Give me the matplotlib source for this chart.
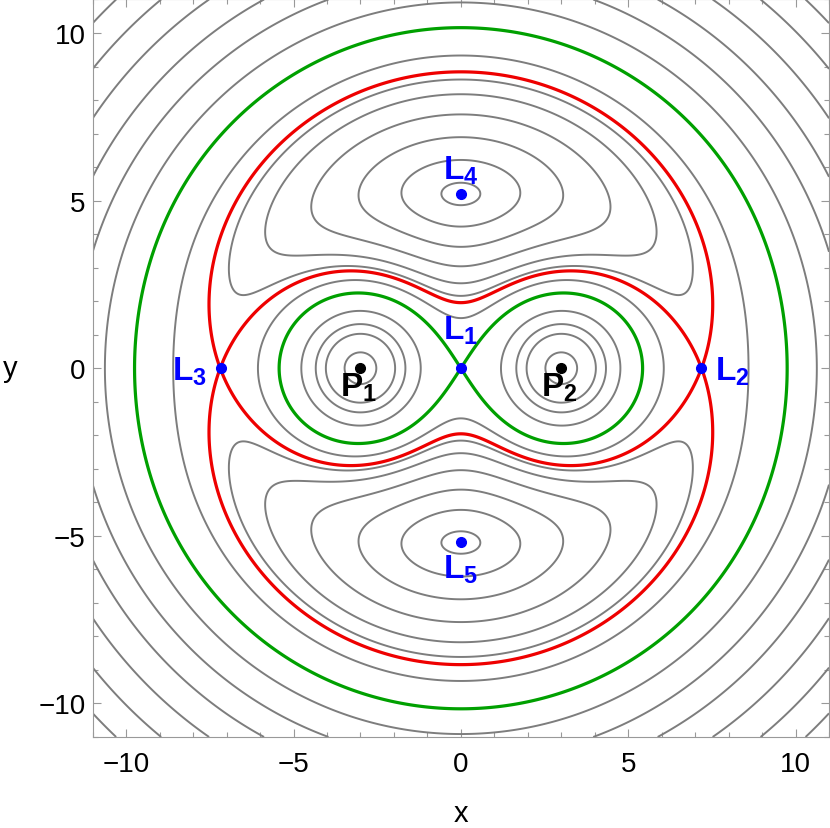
import numpy as np
import matplotlib
matplotlib.use('Agg')
import matplotlib.pyplot as plt
from matplotlib.ticker import MultipleLocator

plt.rcParams['font.family'] = ['Liberation Sans', 'DejaVu Sans']
plt.rcParams['mathtext.fontset'] = 'custom'
plt.rcParams['mathtext.rm'] = 'Liberation Sans'
plt.rcParams['mathtext.bf'] = 'Liberation Sans:bold'

# two equal masses, rotating frame
mass_x = [-3.0, 3.0]
mass_labels = ["P_1", "P_2"]

# Lagrange points
lagrange_x = [0.0, 7.18, -7.18, 0.0, 0.0]
lagrange_y = [0.0, 0.0, 0.0, 5.196, -5.196]
lagrange_labels = ["L_1", "L_2", "L_3", "L_4", "L_5"]

# grey contour levels (inside the outer green ring / outside it)
inner_levels = [-2.32, -1.185, -0.972, -0.80, -0.607, -0.5627, -0.539,
                -0.511, -0.486, -0.4686, -0.4595]
outer_levels = [-1.30, -1.185, -1.073, -0.972, -0.879, -0.80, -0.728]

omega2 = 2.0 / 6.0 ** 3


def potential(x, y):
    r1 = np.sqrt((x - mass_x[0]) ** 2 + y ** 2)
    r2 = np.sqrt((x - mass_x[1]) ** 2 + y ** 2)
    return -1.0 / r1 - 1.0 / r2 - 0.5 * omega2 * (x ** 2 + y ** 2)


def bold_label(name):
    base, sub = name.split('_')
    return r'$\mathbf{%s}_\mathbf{%s}$' % (base, sub)


xs = np.linspace(-11, 11, 1201)
X, Y = np.meshgrid(xs, xs)
Z = potential(X, Y)
R = np.hypot(X, Y)

green_level = potential(lagrange_x[0], lagrange_y[0])
red_level = potential(lagrange_x[1], lagrange_y[1])

fig = plt.figure(figsize=(8.30, 8.29), dpi=100)
ax = fig.add_axes([0.1117, 0.1098, 0.8871, 0.8896])

grey = '#7d7d7d'
ax.contour(X, Y, np.where(R < 9.5, Z, np.nan), levels=inner_levels,
           colors=grey, linewidths=1.4, linestyles='solid')
ax.contour(X, Y, np.where(R >= 9.5, Z, np.nan), levels=outer_levels,
           colors=grey, linewidths=1.4, linestyles='solid')
ax.contour(X, Y, Z, levels=[green_level], colors='#00a000', linewidths=2.3,
           linestyles='solid')
ax.contour(X, Y, Z, levels=[red_level], colors='#ee0000', linewidths=2.3,
           linestyles='solid')

ax.plot(mass_x, [0, 0], 'o', color='black', ms=7, zorder=5)
ax.plot(lagrange_x, lagrange_y, 'o', color='blue', ms=7, zorder=5)

lab = dict(fontsize=24)
placement = [(0, 1.15, 'center', 'center'), (0.42, -0.08, 'left', 'center'),
             (-0.42, -0.08, 'right', 'center'), (0, 0.25, 'center', 'bottom'),
             (0, -0.3, 'center', 'top')]
for lx, ly, name, (dx, dy, ha, va) in zip(lagrange_x, lagrange_y, lagrange_labels, placement):
    ax.text(lx + dx, ly + dy, bold_label(name), color='blue', ha=ha, va=va, **lab)
for mx, name in zip(mass_x, mass_labels):
    ax.text(mx - 0.05, -0.06, bold_label(name), color='black', ha='center', va='top', **lab)

ax.set_xlim(-11, 11)
ax.set_ylim(-11, 11)
ax.set_aspect('auto')
ax.xaxis.set_major_locator(MultipleLocator(5))
ax.yaxis.set_major_locator(MultipleLocator(5))
ax.xaxis.set_minor_locator(MultipleLocator(1))
ax.yaxis.set_minor_locator(MultipleLocator(1))
ax.tick_params(which='both', direction='in', top=True, right=True, color='#999999',
               labelsize=20)
ax.tick_params(which='major', length=6, width=0.8)
ax.tick_params(which='minor', length=3.5, width=0.8)
ax.tick_params(axis='x', pad=10)
ax.tick_params(axis='y', pad=5)
for s in ax.spines.values():
    s.set_color('#999999')
    s.set_linewidth(0.8)

ax.set_xlabel('x', fontsize=21, labelpad=16)
ax.set_ylabel('y', fontsize=21, rotation=0, labelpad=0)
ax.yaxis.set_label_coords(-0.112, 0.5)
ax.yaxis.label.set_verticalalignment('center')

fig.savefig('out.png', dpi=100)
